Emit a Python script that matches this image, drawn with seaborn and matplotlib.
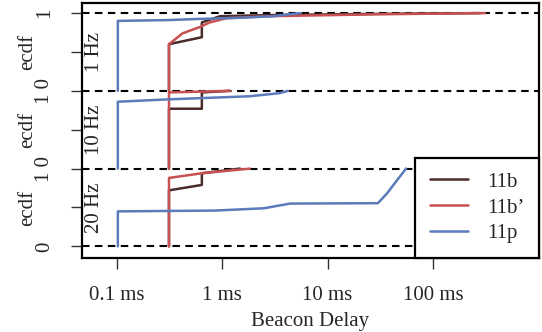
import matplotlib
matplotlib.use('Agg')
import pandas as pd
import matplotlib.pyplot as plt
import matplotlib.transforms as mtrans
import seaborn as sns

rates = ['20 Hz', '10 Hz', '1 Hz']          # bottom to top
techs = ['11b', '11b’', '11p']
colors = ['#4a2a2b', '#c85050', '#5b7bbb']
xticks = [0.1, 1, 10, 100]
xticklabels = ['0.1 ms', '1 ms', '10 ms', '100 ms']

# ecdf knots: delay in ms, cumulative fraction
# 1 Hz
b_1hz_ms = [0.312, 0.312, 0.64, 0.64, 0.95, 3, 30, 280]
b_1hz_f = [0, 0.60, 0.69, 0.88, 0.96, 0.975, 0.99, 1.0]
bb_1hz_ms = [0.312, 0.312, 0.42, 0.61, 0.76, 1.1, 2.8, 30, 312]
bb_1hz_f = [0, 0.60, 0.74, 0.82, 0.88, 0.935, 0.96, 0.985, 1.0]
p_1hz_ms = [0.102, 0.102, 0.3, 0.6, 1.5, 3, 5.5]
p_1hz_f = [0, 0.90, 0.91, 0.925, 0.94, 0.96, 1.0]
# 10 Hz
b_10hz_ms = [0.312, 0.312, 0.64, 0.64, 1.18]
b_10hz_f = [0, 0.77, 0.77, 0.98, 1.0]
bb_10hz_ms = [0.312, 0.312, 1.18]
bb_10hz_f = [0, 0.98, 1.0]
p_10hz_ms = [0.102, 0.102, 0.3, 1.8, 3.5, 4.2]
p_10hz_f = [0, 0.86, 0.89, 0.93, 0.97, 1.0]
# 20 Hz
b_20hz_ms = [0.312, 0.312, 0.64, 0.64, 1.47]
b_20hz_f = [0, 0.72, 0.79, 0.94, 1.0]
bb_20hz_ms = [0.312, 0.312, 0.64, 1.83]
bb_20hz_f = [0, 0.88, 0.94, 1.0]
p_20hz_ms = [0.102, 0.102, 0.85, 2.5, 4.4, 30, 36.6, 45.6, 55.6]
p_20hz_f = [0, 0.45, 0.46, 0.49, 0.55, 0.555, 0.68, 0.85, 1.0]

curves = {
    ('1 Hz', '11b'): (b_1hz_ms, b_1hz_f),
    ('1 Hz', '11b’'): (bb_1hz_ms, bb_1hz_f),
    ('1 Hz', '11p'): (p_1hz_ms, p_1hz_f),
    ('10 Hz', '11b'): (b_10hz_ms, b_10hz_f),
    ('10 Hz', '11b’'): (bb_10hz_ms, bb_10hz_f),
    ('10 Hz', '11p'): (p_10hz_ms, p_10hz_f),
    ('20 Hz', '11b'): (b_20hz_ms, b_20hz_f),
    ('20 Hz', '11b’'): (bb_20hz_ms, bb_20hz_f),
    ('20 Hz', '11p'): (p_20hz_ms, p_20hz_f),
}

FS = 15

sns.set_theme(style='ticks')
plt.rcParams['font.family'] = ['Liberation Serif', 'DejaVu Serif']
plt.rcParams['font.size'] = FS

fig = plt.figure(figsize=(5.42, 3.32), dpi=100)
ax = fig.add_axes([82 / 542, 74 / 332, 457 / 542, 255 / 332])

for off, rate in enumerate(rates):
    for tech, col in zip(techs, colors):
        ms, f = curves[(rate, tech)]
        df = pd.DataFrame({'delay': ms, 'y': [v + off for v in f]})
        sns.lineplot(data=df, x='delay', y='y', color=col, lw=1.8,
                     sort=False, estimator=None, ax=ax,
                     label=tech if off == 0 else None)

for off in range(len(rates) + 1):
    ax.axhline(off, color='black', lw=1.5, dashes=(3.6, 2.6), zorder=0.5)

ax.set_xscale('log')
ax.set_xlim(0.0466, 1016)
ax.set_ylim(-0.15, 3.13)
ax.set_xticks(xticks)
ax.set_xticklabels(xticklabels)
ax.minorticks_off()
ax.set_yticks([0, 0.5, 1, 1.5, 2, 2.5, 3])
ax.set_yticklabels(['0', '', '1 0', '', '1 0', '', '1'], rotation=90, va='center')
ax.tick_params(axis='both', length=8, width=1, color='#333333', labelsize=FS)
ax.tick_params(axis='y', pad=12)
ax.tick_params(axis='x', pad=12)
ax.set_xlabel('Beacon Delay', fontsize=FS, labelpad=5)
ax.set_ylabel('')
for s in ax.spines.values():
    s.set_linewidth(1.6)
    s.set_color('black')

tr = mtrans.blended_transform_factory(ax.transAxes, ax.transData)
for off, rate in enumerate(rates):
    ax.text(-0.12, off + 0.5, 'ecdf', rotation=90, ha='center', va='center',
            fontsize=FS, transform=tr)
    ax.text(0.028, off + 0.5, rate, rotation=90, ha='center', va='center',
            fontsize=FS, transform=tr)

leg = ax.legend(loc='lower right', bbox_to_anchor=(1, 0), borderaxespad=0,
                fancybox=False, framealpha=1, edgecolor='black', fontsize=FS,
                handlelength=1.85, handletextpad=0.9, labelspacing=0.3,
                borderpad=0.7)
leg.get_frame().set_linewidth(1.6)

fig.savefig('out.png', dpi=100)
